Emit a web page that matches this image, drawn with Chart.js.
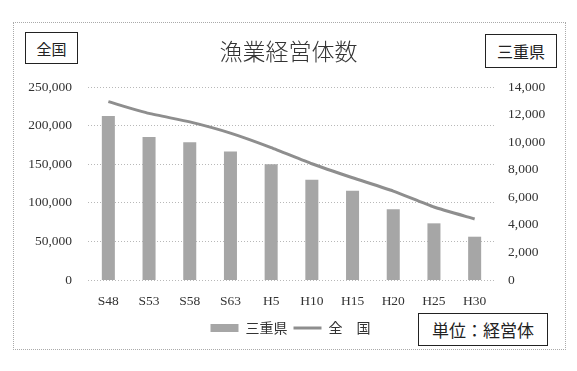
<!DOCTYPE html>
<html><head><meta charset="utf-8">
<script src="https://cdn.jsdelivr.net/npm/chart.js@4/dist/chart.umd.min.js"></script>
<style>
html,body{margin:0;padding:0;background:#fff;}
#wrap{position:relative;width:577px;height:371px;overflow:hidden;}
canvas{position:absolute;left:0;top:0;}
.frame{position:absolute;left:13px;top:22px;width:553px;height:328px;border:1px dotted #aaa;box-sizing:border-box;}
.box{position:absolute;border:1px solid #222;box-sizing:border-box;display:flex;align-items:center;justify-content:center;font-family:"Noto Sans CJK JP",sans-serif;color:#222;background:#fff;}
#title{position:absolute;left:0;width:577px;top:33px;text-align:center;font-family:"Noto Sans CJK JP",sans-serif;font-size:23px;color:#333;font-weight:300;}
</style></head>
<body><div id="wrap">
<div class="frame"></div>
<canvas id="c" width="577" height="371"></canvas>
<div id="title">漁業経営体数</div>
<div class="box" style="left:25px;top:32px;width:53px;height:32px;font-size:15px;">全国</div>
<div class="box" style="left:485px;top:34px;width:72px;height:34px;font-size:16px;">三重県</div>
<div class="box" style="left:418px;top:313px;width:130px;height:33px;font-size:17px;">単位：経営体</div>
</div>
<script>
const categories = ["S48","S53","S58","S63","H5","H10","H15","H20","H25","H30"];
const mieValues = [11890,10380,9990,9330,8390,7270,6470,5130,4110,3140];
const nationalValues = [231000,215800,204800,190271,171524,150586,132417,115196,94507,79067];
const leftTicks = [0,50000,100000,150000,200000,250000];
const rightTicks = [0,2000,4000,6000,8000,10000,12000,14000];

const tickFont = {family:"'Liberation Serif', serif", size:13.5};
const fmt = v => v.toLocaleString('en-US');

new Chart(document.getElementById('c'), {
  data: {
    labels: categories,
    datasets: [
      {type:'bar', label:'三重県', data:mieValues, yAxisID:'y1', backgroundColor:'#a6a6a6',
       barPercentage:0.64, categoryPercentage:0.5},
      {type:'line', label:'全　国', data:nationalValues, yAxisID:'y', borderColor:'#8e8e8e',
       backgroundColor:'#8e8e8e', borderWidth:3, pointRadius:0, tension:0.15}
    ]
  },
  options: {
    responsive:false, animation:false,
    layout:{padding:{left:13, right:9, top:87, bottom:26}},
    plugins:{
      title:{display:false},
      tooltip:{enabled:false},
      legend:{position:'bottom', labels:{usePointStyle:true, pointStyleWidth:28, boxHeight:8,
        padding:6, color:'#333', font:{family:"'Noto Sans CJK JP', sans-serif", size:14},
        sort:(a,b)=>a.datasetIndex-b.datasetIndex,
        generateLabels(chart){
          const items = Chart.defaults.plugins.legend.labels.generateLabels(chart);
          items.forEach(it=>{
            if(it.datasetIndex===0){ it.pointStyle='rect'; it.lineWidth=0; }
            else { it.pointStyle='line'; it.lineWidth=3; it.strokeStyle='#8e8e8e'; }
          });
          return items;
        }}}
    },
    scales:{
      x:{grid:{display:false}, border:{display:false},
         ticks:{color:'#333', font:tickFont, padding:5, maxRotation:0},
         afterFit(s){s.height=35;}},
      y:{position:'left', min:0, max:250000, afterBuildTicks(s){s.ticks=leftTicks.map(v=>({value:v}));},
         grid:{color:'#b8b8b8', lineWidth:1, drawTicks:false}, border:{display:false, dash:[1,2]},
         ticks:{color:'#333', font:tickFont, padding:16, callback:fmt},
         afterFit(s){s.width=75;}},
      y1:{position:'right', min:0, max:14000, afterBuildTicks(s){s.ticks=rightTicks.map(v=>({value:v}));},
         grid:{display:false, drawTicks:false}, border:{display:false},
         ticks:{color:'#333', font:tickFont, padding:13, callback:fmt},
         afterFit(s){s.width=73;}}
    }
  }
});
</script>
</body></html>
